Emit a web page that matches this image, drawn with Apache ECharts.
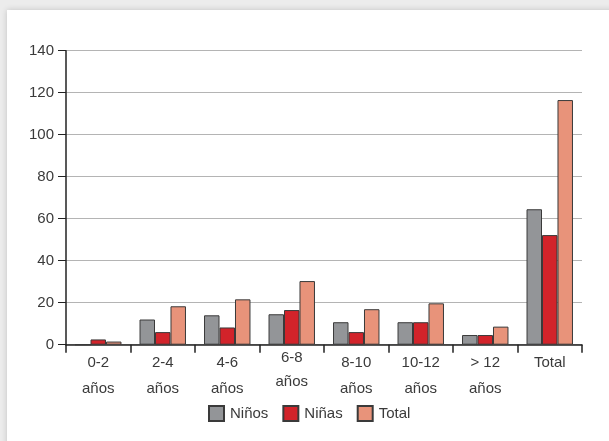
<!DOCTYPE html>
<html>
<head>
<meta charset="utf-8">
<script src="https://cdn.jsdelivr.net/npm/echarts@6/dist/echarts.min.js"></script>
<style>
html,body{margin:0;padding:0;width:609px;height:441px;overflow:hidden;background:#ececec;}
#panel{position:absolute;left:7px;top:10px;width:640px;height:460px;background:#fff;box-shadow:0 0 6px rgba(0,0,0,0.18);}
#chart{position:absolute;left:0;top:0;width:609px;height:441px;}
</style>
</head>
<body>
<div id="panel"></div>
<div id="chart"></div>
<script>
const categories = ['0-2\naños','2-4\naños','4-6\naños','6-8\naños','8-10\naños','10-12\naños','> 12\naños','Total'];
const ninos = [0, 12, 14, 14.5, 10.7, 10.7, 4.6, 64.5];
const ninas = [2.5, 6, 8.2, 16.5, 6, 10.7, 4.6, 52.2];
const total = [1.5, 18.3, 21.6, 30.3, 16.9, 19.7, 8.6, 116.5];
const yTicks = [0, 20, 40, 60, 80, 100, 120, 140];

const FONT = "'Liberation Sans', Arial, sans-serif";
const chart = echarts.init(document.getElementById('chart'), null, {renderer:'canvas'});
const border = {borderColor:'#3a3a3a', borderWidth:1};
chart.setOption({
  backgroundColor:'transparent',
  animation:false,
  textStyle:{fontFamily:FONT},
  grid:{left:66, right:27, top:50.7, bottom:96.3, containLabel:false},
  legend:{
    left:208, top:405, padding:0, itemWidth:15, itemHeight:15, itemGap:14,
    textStyle:{fontSize:15, color:'#3a3a3a', fontFamily:FONT, padding:[0,0,0,1]},
    icon:'rect',
    data:['Niños','Niñas','Total']
  },
  xAxis:{
    type:'category',
    data: categories.map((c,i)=> c.startsWith('6-8') ? {value:c, textStyle:{padding:[-4,0,0,0], lineHeight:24}} : c),
    axisLine:{lineStyle:{color:'#222', width:1.5}},
    axisTick:{show:true, length:8, lineStyle:{color:'#222', width:1.5}},
    axisLabel:{fontSize:15, color:'#3a3a3a', lineHeight:26, margin:5, interval:0, fontFamily:FONT}
  },
  yAxis:{
    type:'value', min:0, max:140, interval:20,
    axisLine:{show:true, lineStyle:{color:'#222', width:1.5}},
    axisTick:{show:true, length:8, lineStyle:{color:'#222', width:1}},
    axisLabel:{fontSize:15, color:'#3a3a3a', margin:12, fontFamily:FONT,
      formatter:v=> yTicks.includes(v) ? String(v) : ''},
    splitLine:{lineStyle:{color:'#b4b4b4', width:1.2}}
  },
  series:[
    {name:'Niños', type:'bar', data:ninos, barGap:'0%', barCategoryGap:'28%', itemStyle:Object.assign({color:'#939598'},border)},
    {name:'Niñas', type:'bar', data:ninas, barGap:'0%', barCategoryGap:'28%', itemStyle:Object.assign({color:'#d2232a'},border)},
    {name:'Total', type:'bar', data:total, barGap:'0%', barCategoryGap:'28%', itemStyle:Object.assign({color:'#e8937a'},border)}
  ]
});
</script>
</body>
</html>
